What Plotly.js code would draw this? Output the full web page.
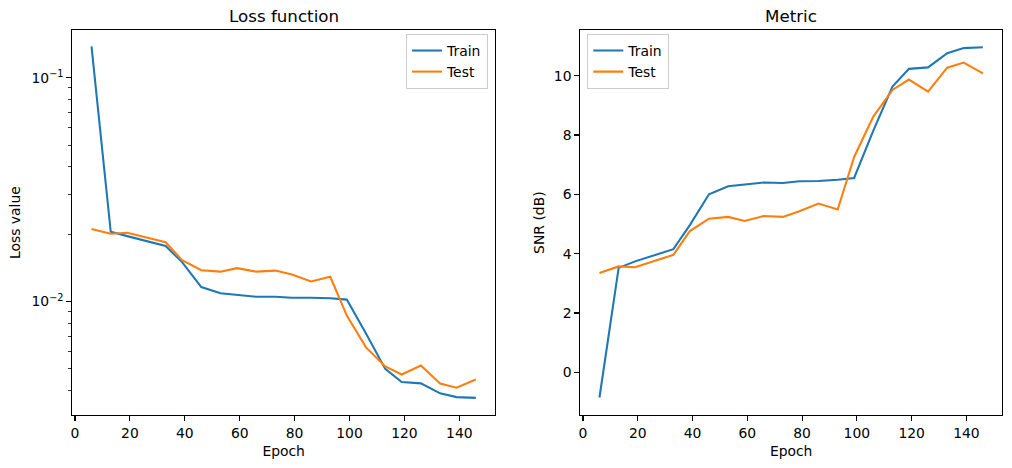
<!DOCTYPE html>
<html>
<head>
<meta charset="utf-8">
<script src="https://cdn.plot.ly/plotly-3.0.1.min.js"></script>
<style>
  html, body { margin: 0; padding: 0; background: #fff; }
  #chart { width: 1012px; height: 468px; }
</style>
</head>
<body>
<div id="chart"></div>
<script>
// Training history: epochs and per-epoch loss / SNR for train and test sets
const epochs = [6, 13, 19, 26, 33, 39, 46, 53, 59, 66, 73, 79, 86, 93, 99, 106, 113, 119, 126, 133, 139, 146];

const lossTrain = [0.138, 0.0205, 0.0196, 0.0187, 0.0177, 0.0150, 0.0116, 0.0109, 0.0107, 0.0105, 0.0105, 0.0104,
                   0.0104, 0.01035, 0.0102, 0.0072, 0.0050, 0.00437, 0.00431, 0.00389, 0.00374, 0.00371];
const lossTest = [0.0211, 0.0201, 0.0203, 0.0194, 0.0184, 0.0153, 0.0138, 0.0136, 0.0141, 0.0136, 0.01375, 0.0132,
                  0.0123, 0.0129, 0.00865, 0.00624, 0.00513, 0.00472, 0.00518, 0.00430, 0.00412, 0.00448];

const snrTrain = [-0.85, 3.52, 3.74, 3.95, 4.15, 4.96, 6.00, 6.27, 6.34, 6.40, 6.38, 6.44,
                  6.45, 6.49, 6.55, 8.15, 9.63, 10.23, 10.28, 10.76, 10.93, 10.96];
const snrTest = [3.35, 3.57, 3.54, 3.74, 3.96, 4.76, 5.18, 5.24, 5.10, 5.27, 5.24, 5.43,
                 5.69, 5.49, 7.26, 8.62, 9.52, 9.87, 9.46, 10.27, 10.44, 10.08];

const seriesNames = ['Train', 'Test'];
const lossTickVals = [0.01, 0.1];
const lossTickText = ['10<sup>\u22122</sup>', '10<sup>\u22121</sup>'];
const xTickVals = [0, 20, 40, 60, 80, 100, 120, 140];
const snrTickVals = [0, 2, 4, 6, 8, 10];

const C_TRAIN = '#1f77b4';
const C_TEST = '#ff7f0e';
const FONT = 'DejaVu Sans, Liberation Sans, sans-serif';
const LW = 2.08;

// minor ticks on the log axis: 2..9 times each decade
const lossMinor = [];
[0.001, 0.01, 0.1].forEach(d => { for (let k = 2; k <= 9; k++) lossMinor.push(d * k); });

const traces = [
  { x: epochs, y: lossTrain, name: seriesNames[0], mode: 'lines', line: { color: C_TRAIN, width: LW },
    xaxis: 'x', yaxis: 'y', legend: 'legend' },
  { x: epochs, y: lossTest, name: seriesNames[1], mode: 'lines', line: { color: C_TEST, width: LW },
    xaxis: 'x', yaxis: 'y', legend: 'legend' },
  { x: epochs, y: snrTrain, name: seriesNames[0], mode: 'lines', line: { color: C_TRAIN, width: LW },
    xaxis: 'x2', yaxis: 'y2', legend: 'legend2' },
  { x: epochs, y: snrTest, name: seriesNames[1], mode: 'lines', line: { color: C_TEST, width: LW },
    xaxis: 'x2', yaxis: 'y2', legend: 'legend2' }
];

const W = 1012, H = 468;
const yDom = [(H - 415) / H, (H - 30.3) / H];

const axisCommon = {
  showline: true, mirror: true, linecolor: '#000', linewidth: 1.1,
  ticks: 'outside', ticklen: 4.9, tickwidth: 1.1, tickcolor: '#000',
  showgrid: false, zeroline: false,
  tickfont: { family: FONT, size: 13.9, color: '#000' }
};

const legendCommon = {
  bgcolor: 'rgba(255,255,255,0.8)', bordercolor: '#cccccc', borderwidth: 1,
  font: { family: FONT, size: 13.9, color: '#000' }, tracegroupgap: 0
};

const layout = {
  width: W, height: H,
  margin: { l: 0, r: 0, t: 0, b: 0 },
  paper_bgcolor: '#fff', plot_bgcolor: '#fff',
  font: { family: FONT, color: '#000' },
  xaxis: Object.assign({}, axisCommon, {
    domain: [72.3 / W, 495 / W], range: [-1, 153], anchor: 'y',
    tickvals: xTickVals,
    title: { text: 'Epoch', font: { family: FONT, size: 13.9 }, standoff: 6 }
  }),
  yaxis: Object.assign({}, axisCommon, {
    domain: yDom, type: 'log', range: [-2.507, -0.788], anchor: 'x',
    tickmode: 'array', tickvals: lossTickVals, ticktext: lossTickText,
    minor: { tickmode: 'array', tickvals: lossMinor, ticks: 'outside', ticklen: 2.8, tickwidth: 0.8, tickcolor: '#000' },
    title: { text: 'Loss value', font: { family: FONT, size: 13.9 }, standoff: 7 }
  }),
  xaxis2: Object.assign({}, axisCommon, {
    domain: [580.3 / W, 1002 / W], range: [-1, 153], anchor: 'y2',
    tickvals: xTickVals,
    title: { text: 'Epoch', font: { family: FONT, size: 13.9 }, standoff: 6 }
  }),
  yaxis2: Object.assign({}, axisCommon, {
    domain: yDom, range: [-1.44, 11.53], anchor: 'x2',
    tickvals: snrTickVals,
    title: { text: 'SNR (dB)', font: { family: FONT, size: 13.9 }, standoff: 6 }
  }),
  showlegend: true,
  legend: Object.assign({}, legendCommon, {
    x: 488 / W, xanchor: 'right', y: 1 - 34 / H, yanchor: 'top'
  }),
  legend2: Object.assign({}, legendCommon, {
    x: 587.3 / W, xanchor: 'left', y: 1 - 34 / H, yanchor: 'top'
  }),
  annotations: [
    { text: 'Loss function', xref: 'paper', yref: 'paper', x: (72.3 + 495) / 2 / W, y: 1 - 16 / H,
      xanchor: 'center', yanchor: 'middle', showarrow: false, font: { family: FONT, size: 16.7, color: '#000' } },
    { text: 'Metric', xref: 'paper', yref: 'paper', x: (580.3 + 1002) / 2 / W, y: 1 - 16 / H,
      xanchor: 'center', yanchor: 'middle', showarrow: false, font: { family: FONT, size: 16.7, color: '#000' } }
  ]
};

Plotly.newPlot('chart', traces, layout, { staticPlot: true, displayModeBar: false });
</script>
</body>
</html>
